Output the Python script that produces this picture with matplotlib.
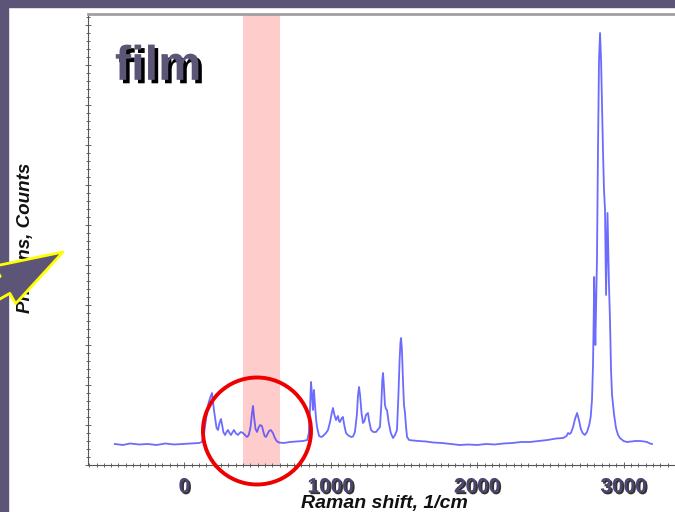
import matplotlib
matplotlib.use("Agg")
import matplotlib.pyplot as plt
import matplotlib.patheffects as pe
from matplotlib.patches import Ellipse, Rectangle, FancyArrowPatch
from matplotlib.ticker import MultipleLocator, NullFormatter
from matplotlib.transforms import IdentityTransform

plt.rcParams['font.family'] = ['Liberation Sans', 'DejaVu Sans']

# Raman spectrum of the film: wavenumber (1/cm) and photon counts
shift = [-475, -420, -370, -310, -250, -190, -130, -70, -10, 50, 100, 120,
         135, 150, 165, 178, 189, 198, 205, 212, 220, 230, 240, 250, 258,
         266, 278, 288, 298, 308, 318, 330, 339, 350, 366, 378, 387, 400,
         414, 428, 440, 452, 462, 469, 476, 486, 496, 506, 516, 530, 540,
         548, 557, 568, 578, 590, 605, 615, 630, 645, 680, 720, 770, 810,
         840, 850, 858, 865, 872, 878, 885, 892, 900, 906, 920, 935, 947,
         967, 981, 995, 1008, 1015, 1025, 1036, 1049, 1056, 1063, 1075,
         1083, 1092, 1104, 1120, 1140, 1152, 1165, 1178, 1186, 1193, 1200,
         1210, 1220, 1230, 1240, 1254, 1262, 1275, 1290, 1309, 1325, 1336,
         1345, 1352, 1357, 1364, 1370, 1377, 1384, 1395, 1410, 1425, 1439,
         1452, 1462, 1470, 1476, 1480, 1486, 1493, 1500, 1507, 1514, 1521,
         1535, 1560, 1600, 1650, 1700, 1760, 1820, 1880, 1940, 2000, 2060,
         2120, 2180, 2240, 2300, 2360, 2420, 2480, 2540, 2587, 2610, 2621,
         2630, 2640, 2655, 2668, 2682, 2695, 2708, 2720, 2735, 2750, 2765,
         2775, 2784, 2791, 2796, 2799, 2803, 2807, 2812, 2818, 2825, 2832,
         2839, 2846, 2853, 2859, 2866, 2873, 2880, 2890, 2900, 2907, 2914,
         2921, 2935, 2948, 2962, 2975, 3000, 3023, 3050, 3080, 3112, 3140,
         3160, 3180, 3194]
counts = [210, 200, 215, 205, 210, 200, 215, 205, 210, 215, 220, 230,
          320, 480, 620, 680, 720, 600, 520, 450, 370, 350, 420, 460, 400,
          330, 300, 330, 350, 320, 300, 330, 350, 320, 300, 320, 330, 320,
          300, 280, 300, 380, 520, 590, 480, 360, 330, 370, 400, 390, 330,
          290, 280, 310, 340, 350, 320, 280, 240, 225, 220, 230, 235, 240,
          250, 320, 550, 830, 700, 550, 750, 600, 450, 380, 290, 280, 290,
          320, 350, 430, 530, 570, 500, 450, 490, 440, 430, 470,
          480, 400, 320, 295, 280, 285, 330, 500, 700, 780, 700,
          520, 420, 440, 500, 520, 440, 350, 330, 330, 360, 380,
          600, 850, 920, 760, 600, 560, 550, 430, 320, 270, 300,
          350, 700, 1050, 1230, 1270, 1150, 850, 600, 520, 380, 280,
          250, 245, 240, 235, 225, 220, 210, 200, 205, 200, 210,
          205, 215, 220, 230, 230, 240, 250, 265, 270, 290, 320,
          310, 320, 380, 460, 520, 450, 360, 320, 300, 330, 400,
          480, 650, 1000, 1500, 1880, 1500, 1200, 1600, 2050, 3150, 4050,
          4320, 4050, 3550, 3150, 2750, 2550, 1700, 2520, 1800, 1450, 950,
          700, 500, 370, 300, 270, 240, 230, 235, 240, 240, 235,
          230, 215, 210]

# Highlighted band and axis tick values
band = [400, 650]
xtick_values = [0, 1000, 2000, 3000]
xtick_labels = ['0', '1000', '2000', '3000']

slate = '#5c5578'

fig = plt.figure(figsize=(6.75, 5.12), dpi=100)
fig.patch.set_facecolor('white')

# Slide frame: dark strip along the top and left edge
fig.add_artist(Rectangle((0, 0.986), 1, 0.014, transform=fig.transFigure,
                         color=slate, zorder=-1))
fig.add_artist(Rectangle((0, 0), 0.012, 1, transform=fig.transFigure,
                         color=slate, zorder=-1))

ax = fig.add_axes([0.1304, 0.0918, 0.9067, 0.8809])
ax.set_xlim(-658, 3522)
ax.set_ylim(0, 4510)

ax.axvspan(band[0], band[1], color='#ffcccc', lw=0, zorder=0)
ax.plot(shift, counts, color='#3a3aff', lw=1.3, alpha=0.75, zorder=2)

# Circle marking the low-frequency region
ax.add_patch(Ellipse((496, 340), 738, 1070, fill=False, ec='#ee0000',
                     lw=2.8, clip_on=False, zorder=4))

ax.spines['right'].set_visible(False)
ax.spines['top'].set_color('#a0a0a0')
ax.spines['top'].set_linewidth(2)
ax.spines['left'].set_color('#555555')
ax.spines['bottom'].set_color('#555555')

ax.set_xticks(xtick_values)
ax.set_xticklabels(xtick_labels)
ax.xaxis.set_minor_locator(MultipleLocator(50))
ax.yaxis.set_major_locator(MultipleLocator(400))
ax.yaxis.set_minor_locator(MultipleLocator(80))
ax.yaxis.set_major_formatter(NullFormatter())
ax.tick_params(axis='both', which='both', direction='inout', color='#666666',
               width=0.7)
ax.tick_params(axis='both', which='major', length=4)
ax.tick_params(axis='both', which='minor', length=2.5)
ax.tick_params(axis='x', which='major', pad=7, labelsize=15,
               labelcolor='#4b4570')
for lbl in ax.get_xticklabels():
    lbl.set_fontweight('bold')
    lbl.set_path_effects([pe.withSimplePatchShadow(offset=(1.2, -1.2),
                                                   shadow_rgbFace='black',
                                                   alpha=0.8)])

ax.set_xlabel('Raman shift, 1/cm', fontsize=14, fontweight='bold',
              fontstyle='italic', color='#111111')
ax.xaxis.set_label_coords(0.484, -0.086)
ax.xaxis.label.set_va('center')
ax.set_ylabel('Photons, Counts', fontsize=13.5, fontweight='bold',
              fontstyle='italic', color='#111111')
ax.yaxis.set_label_coords(-0.102, 0.503)
ax.yaxis.label.set_va('center')

ax.text(0.044, 0.854, 'film', transform=ax.transAxes, fontsize=35,
        fontweight='bold', color=slate, va='baseline', ha='left',
        path_effects=[pe.withSimplePatchShadow(offset=(2.5, -2.5),
                                               shadow_rgbFace='black',
                                               alpha=1.0)])

# Arrow pointing at the axis label
fig.add_artist(FancyArrowPatch((-41, 201), (63, 260),
                               arrowstyle='simple,head_length=4.8,head_width=3.1,tail_width=1.4',
                               mutation_scale=10, fc=slate, ec='#ffff00',
                               lw=2, transform=IdentityTransform(),
                               shrinkA=0, shrinkB=0, zorder=5))

fig.savefig('out.png', dpi=100)
